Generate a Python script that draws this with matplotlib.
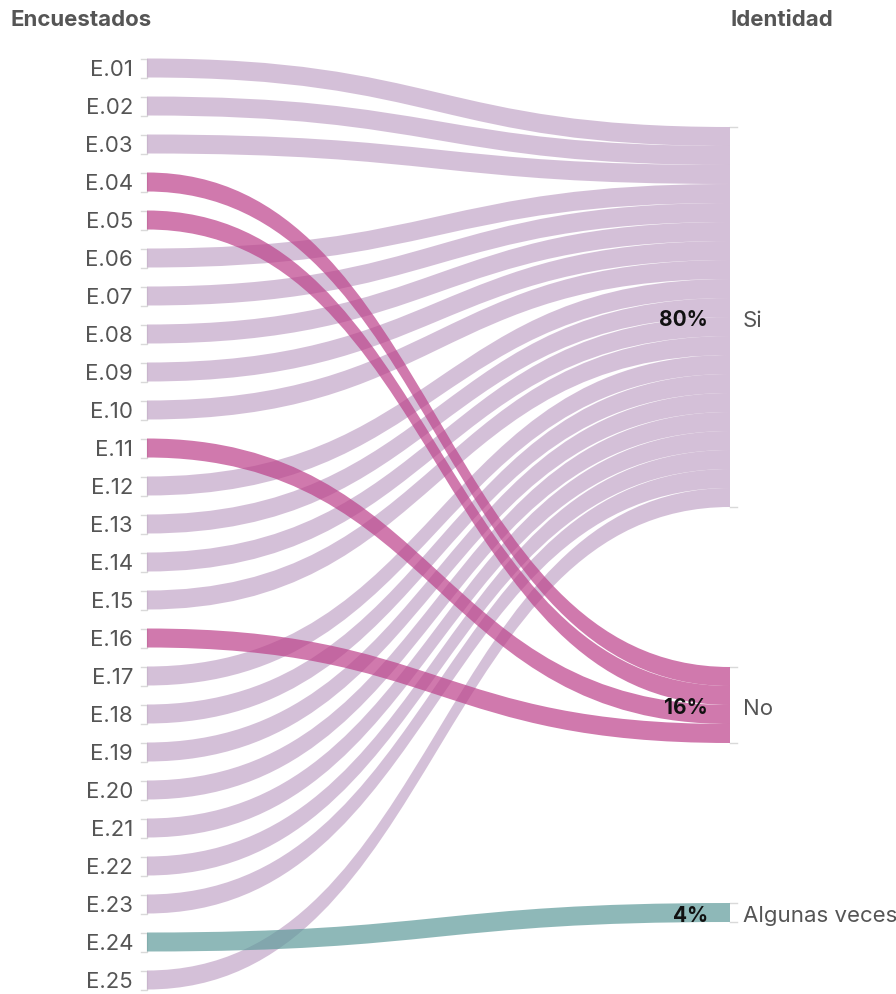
import matplotlib
matplotlib.use("Agg")
import matplotlib.pyplot as plt
from matplotlib.path import Path
from matplotlib.patches import PathPatch

# data
respondents = ["E.01", "E.02", "E.03", "E.04", "E.05", "E.06", "E.07", "E.08", "E.09",
               "E.10", "E.11", "E.12", "E.13", "E.14", "E.15", "E.16", "E.17", "E.18",
               "E.19", "E.20", "E.21", "E.22", "E.23", "E.24", "E.25"]
identity = ["Si", "Si", "Si", "No", "No", "Si", "Si", "Si", "Si",
            "Si", "No", "Si", "Si", "Si", "Si", "No", "Si", "Si",
            "Si", "Si", "Si", "Si", "Si", "Algunas veces", "Si"]
categories = ["Si", "No", "Algunas veces"]

colors = {"Si": "#c3a6c8", "No": "#bc418a", "Algunas veces": "#5f9b9b"}
layer = {"Si": 2, "Algunas veces": 3, "No": 4}
label_gray = "#555555"
bracket = "#d9d9d9"

W, H = 896, 995
plt.rcParams["font.family"] = ["Inter", "DejaVu Sans"]
fig = plt.figure(figsize=(W / 100, H / 100), dpi=100)
ax = fig.add_axes([0, 0, 1, 1])
ax.set_xlim(0, W)
ax.set_ylim(H, 0)
ax.axis("off")

k = 19.0          # px per respondent
x_left, x_right = 147, 730
left_c0, left_step = 69, 38.0
right_top, right_gap = 128, 160

# right node layout
counts = {c: identity.count(c) for c in categories}
node_top = {}
y = right_top
for c in categories:
    node_top[c] = y
    y += counts[c] * k + right_gap


def ribbon(y0, y1):
    """Sankey link with constant vertical thickness k."""
    xm = (x_left + x_right) / 2
    a0, a1 = y0 - k / 2, y1 - k / 2
    b0, b1 = y0 + k / 2, y1 + k / 2
    verts = [(x_left, a0), (xm, a0), (xm, a1), (x_right, a1),
             (x_right, b1), (xm, b1), (xm, b0), (x_left, b0), (x_left, a0)]
    codes = [Path.MOVETO, Path.CURVE4, Path.CURVE4, Path.CURVE4,
             Path.LINETO, Path.CURVE4, Path.CURVE4, Path.CURVE4, Path.CLOSEPOLY]
    return Path(verts, codes)


filled = {c: 0 for c in categories}
for i, (name, ans) in enumerate(zip(respondents, identity)):
    y0 = left_c0 + left_step * i
    y1 = node_top[ans] + (filled[ans] + 0.5) * k
    filled[ans] += 1
    ax.add_patch(PathPatch(ribbon(y0, y1), facecolor=colors[ans], edgecolor="none",
                           alpha=0.7, zorder=layer[ans]))

    # left node bracket + label
    t, b = y0 - k / 2, y0 + k / 2
    ax.plot([141, x_left - 0.5, x_left - 0.5, 141], [t, t, b, b],
            color=bracket, lw=1.0, zorder=1)
    ax.text(133, y0 + 1, name, ha="right", va="center", fontsize=16, color=label_gray)

# right nodes
total = len(identity)
for c in categories:
    t = node_top[c]
    b = t + counts[c] * k
    ax.plot([x_right, 737], [t, t], color=bracket, lw=1.0, zorder=1)
    ax.plot([x_right, 737], [b, b], color=bracket, lw=1.0, zorder=1)
    mid = (t + b) / 2
    ax.text(708, mid + 2, f"{counts[c] / total * 100:.0f}%", ha="right", va="center",
            fontsize=15, fontweight="bold", color="#111111", zorder=6)
    ax.text(743, mid + 3, c, ha="left", va="center", fontsize=16, color=label_gray)

ax.text(10, 20, "Encuestados", ha="left", va="center", fontsize=16,
        fontweight="bold", color=label_gray)
ax.text(730, 20, "Identidad", ha="left", va="center", fontsize=16,
        fontweight="bold", color=label_gray)

fig.savefig("out.png", dpi=100)
